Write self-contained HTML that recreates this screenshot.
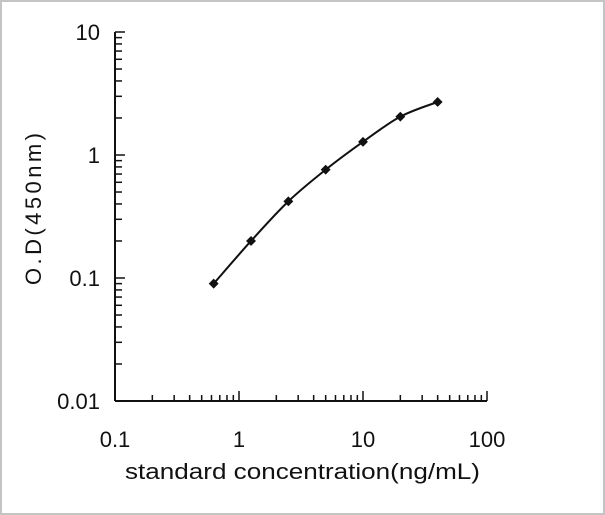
<!DOCTYPE html>
<html><head><meta charset="utf-8"><style>
html,body{margin:0;padding:0;background:#fff}
svg{display:block}
text{font-family:"Liberation Sans",Arial,sans-serif;fill:#111}
</style></head><body>
<svg width="605" height="515" viewBox="0 0 605 515">
<rect x="1" y="1" width="603" height="513" fill="#fff" stroke="#c4c4c4" stroke-width="2"/>
<g id="axes"></g>
<g id="series"></g>
<text x="41" y="209" font-size="22" text-anchor="middle" textLength="152" lengthAdjust="spacing" transform="rotate(-90 41 209)">O.D(450nm)</text>
<text x="125" y="479" font-size="22" textLength="355" lengthAdjust="spacingAndGlyphs">standard concentration(ng/mL)</text>
</svg>
<script>
const xTickLabels=["0.1","1","10","100"];
const yTickLabels=["10","1","0.1","0.01"];
const concentrations=[0.625,1.25,2.5,5,10,20,40];
const odValues=[0.09,0.2,0.42,0.76,1.28,2.05,2.7];
const NS="http://www.w3.org/2000/svg";
const X0=115,XD=124,Y0=401,YD=123;
function xs(v){return X0+(Math.log10(v)+1)*XD;}
function ys(v){return Y0-(Math.log10(v)+2)*YD;}
function mk(t,a,p){const e=document.createElementNS(NS,t);for(const k in a)e.setAttribute(k,a[k]);p.appendChild(e);return e;}
const ax=document.getElementById('axes');
let l=mk('line',{x1:X0,y1:Y0,x2:xs(100),y2:Y0,stroke:'#111','stroke-width':2},ax);


l=mk('line',{x1:X0,y1:Y0,x2:X0,y2:ys(10),stroke:'#111','stroke-width':2},ax);


for(let d=0;d<3;d++){for(let m=1;m<=10;m++){
 const v=Math.pow(10,d-1)*m; if(m===1&&d>0)continue;
 const major=(m===1||m===10);
 let t=mk('line',{x1:xs(v),y1:Y0,x2:xs(v),y2:Y0-(major?10:6),stroke:'#111','stroke-width':1.5},ax);
 
 
 const w=Math.pow(10,d-2)*m;
 t=mk('line',{x1:X0,y1:ys(w),x2:X0+(major?10:7),y2:ys(w),stroke:'#111','stroke-width':1.5},ax);
 
 
}}
xTickLabels.forEach(s=>{const t=mk('text',{x:xs(parseFloat(s)),y:Y0+46,'font-size':22,'text-anchor':'middle'},ax);t.textContent=s;
 
 });
yTickLabels.forEach(s=>{const t=mk('text',{x:X0-15,y:ys(parseFloat(s))+8,'font-size':22,'text-anchor':'end'},ax);t.textContent=s;
 
 });
const sg=document.getElementById('series');
const pts=concentrations.map((c,i)=>[xs(c),ys(odValues[i])]);
let d='M'+pts[0][0]+','+pts[0][1];
for(let i=0;i<pts.length-1;i++){
 const p0=pts[Math.max(0,i-1)],p1=pts[i],p2=pts[i+1],p3=pts[Math.min(pts.length-1,i+2)];
 d+=' C'+(p1[0]+(p2[0]-p0[0])/6)+','+(p1[1]+(p2[1]-p0[1])/6)+' '+(p2[0]-(p3[0]-p1[0])/6)+','+(p2[1]-(p3[1]-p1[1])/6)+' '+p2[0]+','+p2[1];
}
const path=mk('path',{d:d,fill:'none',stroke:'#111','stroke-width':2},sg);


pts.forEach(p=>{const m=mk('rect',{x:p[0]-3.5,y:p[1]-3.5,width:7,height:7,fill:'#111',transform:'rotate(45 '+p[0]+' '+p[1]+')'},sg);
 
 });
</script>
</body></html>
